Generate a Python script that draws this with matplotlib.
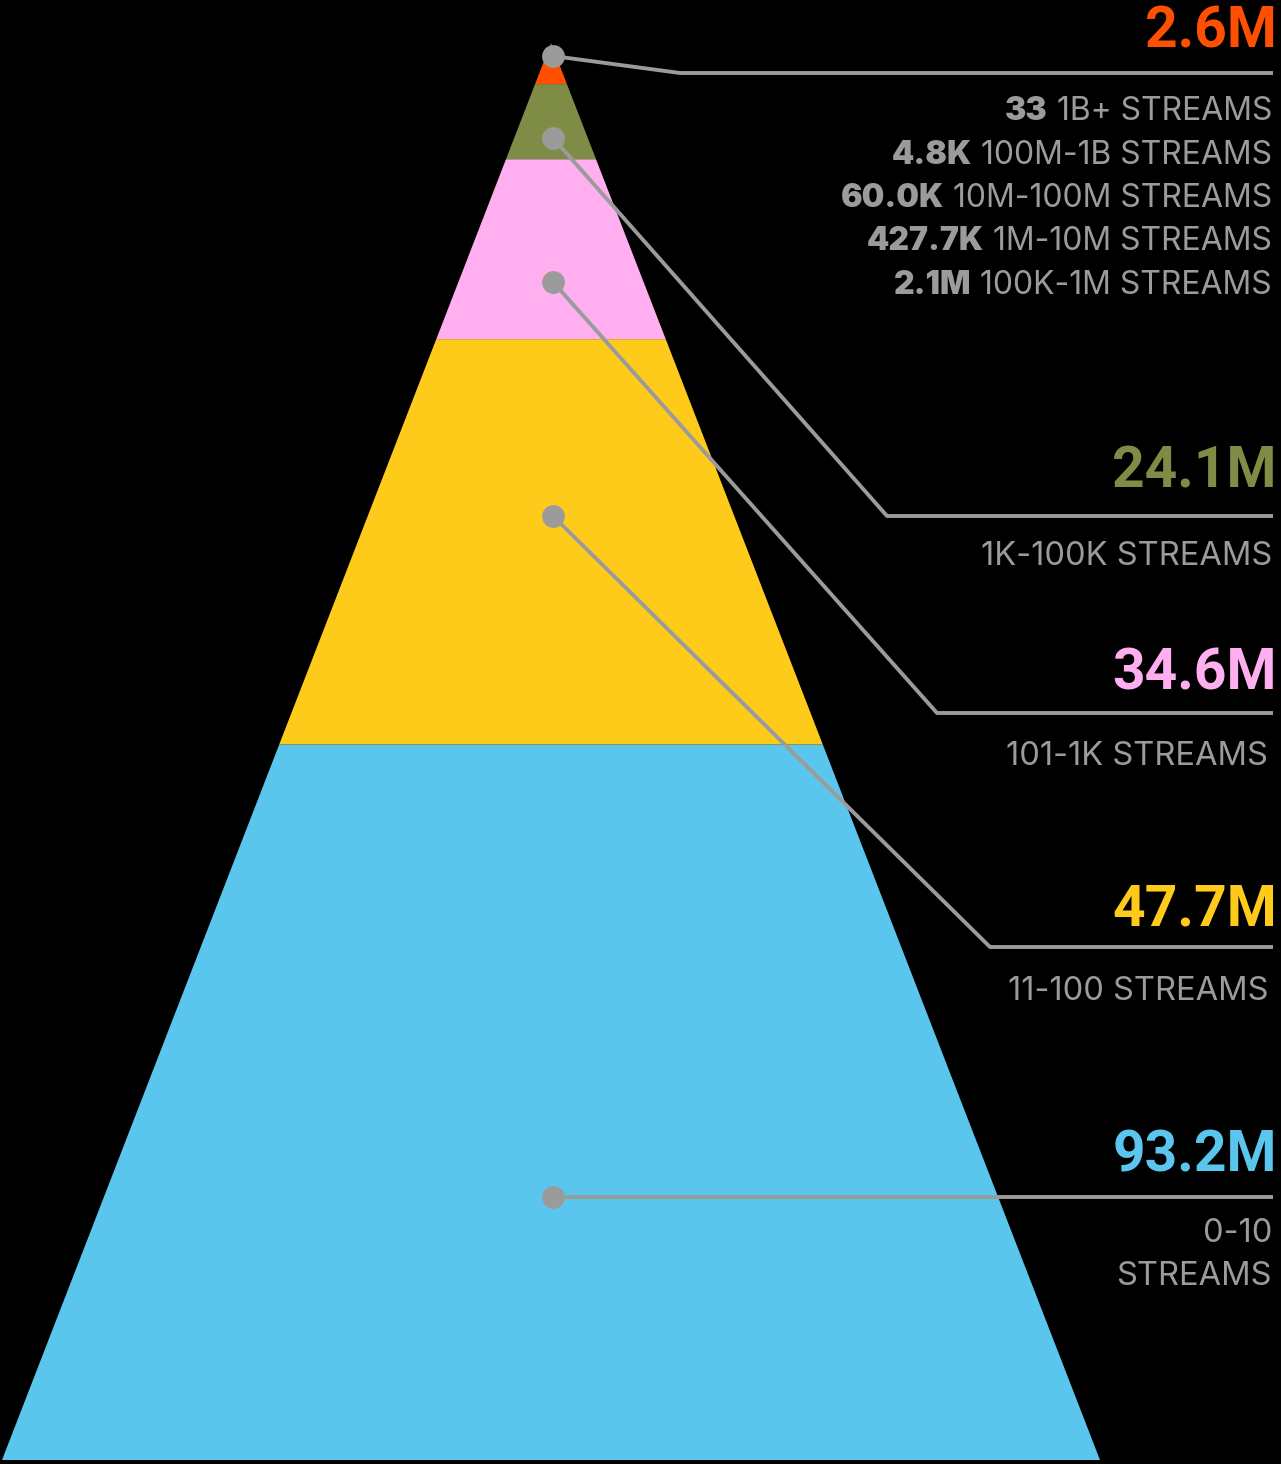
import matplotlib
matplotlib.use("Agg")
import matplotlib.pyplot as plt
from matplotlib.patches import Polygon

# --- DATA ---
tiers = ["0-10", "11-100", "101-1K", "1K-100K", "100K+"]
song_counts = ["93.2M", "47.7M", "34.6M", "24.1M", "2.6M"]
tier_colors = ["#5bc6ed", "#ffcb1b", "#ffaff0", "#7f8c45", "#ff4f00"]
# band heights from the base, as share of pyramid height
band_heights = [0.505, 0.286, 0.127, 0.053, 0.029]

top_counts = ["33", "4.8K", "60.0K", "427.7K", "2.1M"]
top_ranges = ["1B+", "100M-1B", "10M-100M", "1M-10M", "100K-1M"]

W, H = 1281, 1464
apex_x, apex_y = 551, 43
base_y, base_half = 1460, 549
gray = "#9b9b9b"
FONT = ["Inter", "DejaVu Sans"]
BIG_FONT = ["Roboto", "DejaVu Sans"]

fig = plt.figure(figsize=(W / 100, H / 100), dpi=100, facecolor="black")
ax = fig.add_axes([0, 0, 1, 1])
ax.set_xlim(0, W)
ax.set_ylim(H, 0)
ax.axis("off")
ax.set_facecolor("black")

total_h = base_y - apex_y


def half_width(y):
    return base_half * (y - apex_y) / total_h


# --- PYRAMID BANDS ---
y_bot = base_y
for h, c in zip(band_heights, tier_colors):
    y_top = max(y_bot - h * total_h, apex_y)
    pts = [(apex_x - half_width(y_bot), y_bot), (apex_x + half_width(y_bot), y_bot),
           (apex_x + half_width(y_top), y_top), (apex_x - half_width(y_top), y_top)]
    ax.add_patch(Polygon(pts, closed=True, facecolor=c, edgecolor="none"))
    y_bot = y_top

# --- LEADERS ---
dot_x = 553
dots_y = [1197, 516, 282, 138, 56]
elbows = [(553, 1197), (990, 947), (937, 713), (887, 516), (680, 73)]
right_x = 1273
for dy, (ex, ey) in zip(dots_y, elbows):
    ax.plot([dot_x, ex, right_x], [dy, ey, ey], color=gray, lw=2.8,
            solid_capstyle="butt", zorder=3)
    ax.scatter([dot_x], [dy], s=270, color=gray, zorder=4, linewidths=0)

# --- BIG NUMBERS ---
big_base = [1172, 925, 690, 488, 47]
for txt, c, yb in zip(song_counts, tier_colors, big_base):
    ax.text(1277, yb, txt, color=c, fontsize=41, fontweight="bold",
            ha="right", va="baseline", family=BIG_FONT)

# --- TIER LABELS ---
tier_text = ["0-10\nSTREAMS", "11-100 STREAMS", "101-1K STREAMS", "1K-100K STREAMS"]
tier_base = [1242, 1000, 765, 565]
tier_right = [1272, 1268, 1268, 1272]
for txt, yb, xr in zip(tier_text, tier_base, tier_right):
    for k, line in enumerate(txt.split("\n")):
        ax.text(xr, yb + 43 * k, line, color=gray, fontsize=23.5,
                ha="right", va="baseline", family=FONT)

# --- TOP BREAKDOWN ---
renderer = fig.canvas.get_renderer()
for i, (n, r) in enumerate(zip(top_counts, top_ranges)):
    yb = 120 + i * 43.5
    t = ax.text(1272, yb, f" {r} STREAMS", color=gray, fontsize=23,
                ha="right", va="baseline", family=FONT)
    bb = t.get_window_extent(renderer=renderer)
    xd = ax.transData.inverted().transform((bb.x0, 0))[0]
    ax.text(xd, yb, n, color=gray, fontsize=23, fontweight="black",
            ha="right", va="baseline", family=FONT)

fig.savefig("out.png", dpi=100, facecolor="black")
